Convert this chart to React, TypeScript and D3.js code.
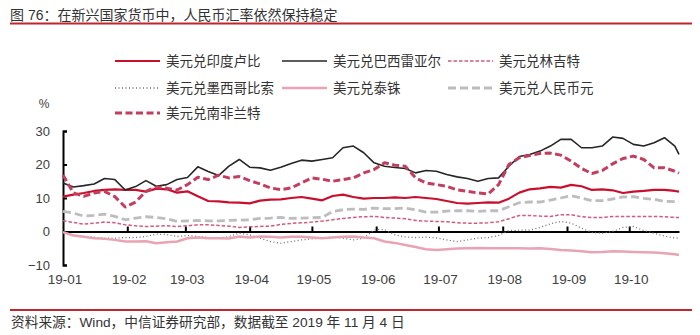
import React, { useEffect, useRef } from "react";
import * as d3 from "d3";

const dates = [
  "2019-01-01","2019-01-06","2019-01-11","2019-01-16","2019-01-21","2019-01-26","2019-01-31",
  "2019-02-05","2019-02-10","2019-02-15","2019-02-20","2019-02-25","2019-03-02","2019-03-07",
  "2019-03-12","2019-03-17","2019-03-22","2019-03-27","2019-04-01","2019-04-06","2019-04-11",
  "2019-04-16","2019-04-21","2019-04-26","2019-05-01","2019-05-06","2019-05-11","2019-05-16",
  "2019-05-21","2019-05-26","2019-05-31","2019-06-05","2019-06-10","2019-06-15","2019-06-20",
  "2019-06-25","2019-06-30","2019-07-05","2019-07-10","2019-07-15","2019-07-20","2019-07-25",
  "2019-07-30","2019-08-04","2019-08-09","2019-08-14","2019-08-19","2019-08-24","2019-08-29",
  "2019-09-03","2019-09-08","2019-09-13","2019-09-18","2019-09-23","2019-09-28","2019-10-03",
  "2019-10-08","2019-10-13","2019-10-18","2019-10-23","2019-10-25"
];

const inr = [10.4,11.0,11.5,12.1,12.4,12.6,12.4,12.4,11.9,12.8,12.6,11.6,12.0,10.5,9.1,
  9.0,8.7,8.6,8.4,9.2,9.5,9.6,10.0,10.3,9.8,9.3,10.6,11.0,10.3,9.8,
  10.0,10.0,10.2,10.0,10.3,10.0,9.7,9.1,8.5,8.3,8.5,8.7,8.6,9.8,11.6,
  12.6,12.9,13.3,13.1,13.9,13.5,12.4,12.6,12.3,11.5,11.9,12.1,12.4,12.4,12.1,11.9];

const brl = [14.5,13.3,13.7,14.2,15.8,15.5,12.4,13.4,15.2,13.5,14.0,15.5,16.1,19.3,17.9,
  16.7,19.5,21.5,19.2,19.0,18.3,19.2,20.3,21.3,21.0,21.5,22.0,25.0,25.5,23.5,
  20.5,19.5,19.1,18.8,17.5,18.2,18.0,17.0,16.3,15.8,15.0,15.8,16.0,19.5,22.4,
  23.0,24.0,25.5,27.5,27.5,25.0,25.0,25.5,28.2,27.8,26.0,25.5,26.5,28.0,25.5,23.0];

const myr = [3.2,2.7,2.2,2.5,2.8,2.6,2.0,1.7,1.5,1.6,1.7,1.5,1.7,2.0,2.0,
  1.8,1.6,1.2,1.4,1.5,1.6,2.1,2.4,2.6,2.8,3.1,3.5,3.9,4.2,4.4,
  4.5,4.2,4.0,3.8,3.3,3.1,3.0,2.9,2.6,2.5,2.5,2.6,2.9,3.8,4.8,
  4.8,4.6,4.5,5.0,5.0,4.4,4.2,4.2,4.5,4.5,4.5,4.5,4.5,4.4,4.2,4.2];

const mxn = [-0.3,-1.0,-1.4,-1.7,-2.0,-2.0,-1.8,-1.8,-1.5,-0.8,-0.9,-1.5,-1.2,-1.5,-1.8,
  -2.0,-1.5,-0.5,-1.0,-2.0,-3.0,-3.5,-3.0,-2.5,-2.2,-2.0,-1.6,-2.0,-2.5,-2.0,
  0.5,0.6,-1.0,-1.6,-1.8,-1.7,-1.9,-2.5,-3.0,-2.5,-2.0,-1.8,-1.2,0.3,0.4,
  0.4,1.2,2.3,3.0,2.5,1.0,-0.3,-0.5,0.0,1.2,1.5,0.3,-0.5,-1.4,-1.9,-2.0];

const thb = [-0.2,-1.2,-1.6,-2.0,-2.2,-2.5,-3.0,-3.0,-2.9,-3.5,-3.2,-3.0,-2.0,-1.8,-2.0,
  -2.0,-2.1,-1.5,-1.8,-1.5,-1.6,-1.8,-1.6,-1.6,-1.8,-2.0,-1.8,-1.6,-1.5,-1.8,
  -2.0,-3.0,-3.4,-4.0,-4.6,-5.3,-5.5,-5.3,-5.1,-5.0,-4.9,-5.0,-5.0,-5.0,-5.0,
  -5.1,-5.0,-5.2,-5.5,-5.7,-5.9,-6.2,-6.1,-5.9,-6.0,-6.1,-6.2,-6.3,-6.5,-6.8,-7.0];

const cny = [6.0,5.5,4.6,4.8,5.2,4.5,3.5,4.0,4.4,4.2,3.8,3.0,3.2,3.3,3.2,
  3.2,3.3,3.4,3.5,3.9,4.0,4.2,3.9,4.0,4.1,4.2,6.0,6.5,6.7,6.6,
  7.0,6.8,6.8,7.0,6.5,5.8,5.8,6.1,6.2,6.2,6.0,6.2,6.2,7.4,8.6,
  8.8,8.8,9.4,10.0,10.7,10.0,9.2,9.2,9.7,10.3,10.4,9.9,9.6,9.0,8.9,8.9];

const zar = [16.9,11.5,10.5,11.5,12.0,10.4,7.3,8.8,12.0,13.3,12.9,12.4,14.0,16.2,15.5,
  16.8,16.0,16.4,15.2,14.2,13.0,12.5,13.0,14.5,16.0,15.6,15.0,15.5,16.0,17.5,
  18.5,20.5,19.8,19.5,16.0,14.5,14.0,13.5,12.4,12.0,11.5,11.2,14.0,20.0,22.0,
  22.7,23.3,23.4,22.8,21.0,18.8,17.3,18.2,20.2,21.8,22.5,21.5,19.0,19.0,18.0,17.4];

const seriesNames = ["美元兑印度卢比","美元兑巴西雷亚尔","美元兑林吉特","美元兑墨西哥比索","美元兑泰铢","美元兑人民币元","美元兑南非兰特"];
const seriesValues = [inr, brl, myr, mxn, thb, cny, zar];
const seriesStyles = [
  { color: "#C8102E", width: 2.2, dash: "" },
  { color: "#262626", width: 1.6, dash: "" },
  { color: "#D25A7B", width: 1.5, dash: "3.5,2" },
  { color: "#6E6E6E", width: 1.3, dash: "1,2.5" },
  { color: "#E9A4B3", width: 2.5, dash: "" },
  { color: "#BDBDBD", width: 2.8, dash: "8,4" },
  { color: "#C43D5E", width: 3, dash: "7,3.5" },
];
const yTicks = [-10, 0, 10, 20, 30];
const monthTicks = ["2019-01-01","2019-02-01","2019-03-01","2019-04-01","2019-05-01","2019-06-01","2019-07-01","2019-08-01","2019-09-01","2019-10-01"];

const title = "图 76：在新兴国家货币中，人民币汇率依然保持稳定";
const source = "资料来源：Wind，中信证券研究部，数据截至 2019 年 11 月 4 日";
const FONT = '"Liberation Sans", Arial, "Noto Sans CJK SC", sans-serif';

export default function App() {
  const yAxisRef = useRef<SVGGElement>(null);
  const xAxisRef = useRef<SVGGElement>(null);
  const xLabRef = useRef<SVGGElement>(null);

  const parse = d3.timeParse("%Y-%m-%d");
  const dts = dates.map((s) => parse(s) as Date);
  const x = d3.scaleTime().domain([parse("2019-01-01") as Date, parse("2019-10-25") as Date]).range([63, 679]);
  const y = d3.scaleLinear().domain([-10, 30]).range([265, 131]);
  const mt = monthTicks.map((s) => parse(s) as Date);

  useEffect(() => {
    const ya = d3.axisLeft(y).tickValues(yTicks).tickSizeInner(-4).tickSizeOuter(-4).tickPadding(13).tickFormat(d3.format("d"));
    const yg = d3.select(yAxisRef.current!);
    yg.call(ya as any);
    yg.select(".domain").attr("stroke", "#000").attr("stroke-width", 2);
    yg.selectAll(".tick line").attr("stroke", "#000").attr("stroke-width", 2);
    yg.selectAll("text").attr("font-size", 13).attr("fill", "#404040").attr("font-family", FONT);

    const xa = d3.axisBottom(x).tickValues(mt.slice(1)).tickSizeInner(-5).tickSizeOuter(0).tickFormat(() => "");
    const xg = d3.select(xAxisRef.current!);
    xg.call(xa as any);
    xg.select(".domain").attr("stroke", "#000").attr("stroke-width", 2);
    xg.selectAll(".tick line").attr("stroke", "#000").attr("stroke-width", 2);

    const xl = d3.axisBottom(x).tickValues(mt).tickSize(0).tickPadding(0).tickFormat(d3.timeFormat("%y-%m") as any);
    const lg = d3.select(xLabRef.current!);
    lg.call(xl as any);
    lg.select(".domain").remove();
    lg.selectAll("text").attr("font-size", 13.5).attr("fill", "#404040").attr("font-family", FONT).attr("dx", 1.5);
  }, []);

  const line = d3.line<number>().x((_, i) => x(dts[i])).y((v) => y(v));
  const legendCols = [115, 282, 448];
  const legendRows = [61, 88, 113];

  return (
    <svg width={700} height={335} style={{ position: "absolute", left: 0, top: 0, background: "#fff" }} fontFamily={FONT}>
      <rect width={700} height={335} fill="#fff" />
      <text x={10} y={15} fontSize={14} fill="#333" dominantBaseline="central">{title}</text>
      <line x1={10} x2={692} y1={23.5} y2={23.5} stroke="#C0272D" strokeWidth={1.8} />

      {seriesNames.map((n, i) => {
        const cx = legendCols[i % 3];
        const cy = legendRows[Math.floor(i / 3)];
        const s = seriesStyles[i];
        return (
          <g key={n}>
            <line x1={cx} x2={cx + 45} y1={cy} y2={cy} stroke={s.color} strokeWidth={s.width} strokeDasharray={s.dash || undefined} />
            <text x={cx + 51} y={cy} fontSize={13.5} fill="#333" dominantBaseline="central">{n}</text>
          </g>
        );
      })}

      <text x={44} y={104} fontSize={12} fill="#404040" textAnchor="middle" dominantBaseline="central">%</text>

      <g ref={xAxisRef} transform={`translate(0,${y(0)})`} />
      <g ref={yAxisRef} transform="translate(63,0)" />
      <g ref={xLabRef} transform="translate(0,274)" />

      {seriesValues.map((vals, i) => {
        const s = seriesStyles[i];
        return (
          <path key={seriesNames[i]} d={line(vals) || ""} fill="none" stroke={s.color} strokeWidth={s.width}
            strokeDasharray={s.dash || undefined} strokeLinejoin="round" />
        );
      })}

      <line x1={10} x2={692} y1={310} y2={310} stroke="#C0272D" strokeWidth={1.8} />
      <text x={11} y={322} fontSize={13.7} fill="#333" dominantBaseline="central">{source}</text>
    </svg>
  );
}
